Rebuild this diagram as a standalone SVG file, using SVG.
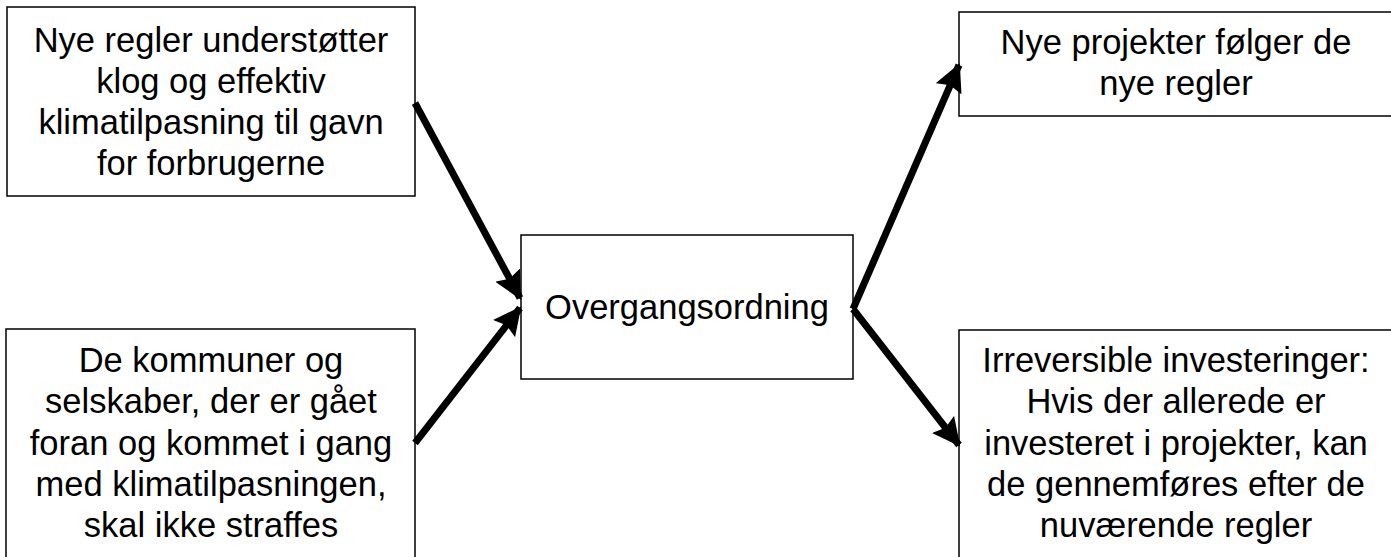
<svg xmlns="http://www.w3.org/2000/svg" width="1391" height="557" viewBox="0 0 1391 557">
<style>
.box{fill:#fff;stroke:#000;stroke-width:1.5}
.t{font-family:"Liberation Sans",Arial,sans-serif;font-size:34.5px;fill:#000;text-anchor:middle}
.c{stroke:#000;stroke-width:7;fill:none}
</style>
<defs>
<marker id="ah" markerUnits="userSpaceOnUse" markerWidth="30" markerHeight="28" refX="26" refY="14" orient="auto">
<path d="M0,0 L28,14 L0,28 L4,14 Z" fill="#000"/>
</marker>
</defs>
<rect width="1391" height="557" fill="#fff"/>
<g id="n1">
<rect class="box" x="7" y="7" width="408" height="189"/>
<text class="t"><tspan x="211" y="52">Nye regler understøtter</tspan><tspan x="211" y="93">klog og effektiv</tspan><tspan x="211" y="134">klimatilpasning til gavn</tspan><tspan x="211" y="175">for forbrugerne</tspan></text>
</g>
<g id="n2">
<rect class="box" x="6" y="329" width="409" height="240"/>
<text class="t"><tspan x="211" y="372">De kommuner og</tspan><tspan x="211" y="413">selskaber, der er gået</tspan><tspan x="211" y="455">foran og kommet i gang</tspan><tspan x="211" y="496">med klimatilpasningen,</tspan><tspan x="211" y="537">skal ikke straffes</tspan></text>
</g>
<g id="n3">
<rect class="box" x="521" y="235" width="332" height="144"/>
<text class="t" x="687" y="319">Overgangsordning</text>
</g>
<g id="n4">
<rect class="box" x="959" y="12" width="440" height="104"/>
<text class="t"><tspan x="1176" y="54">Nye projekter følger de</tspan><tspan x="1176" y="95">nye regler</tspan></text>
</g>
<g id="n5">
<rect class="box" x="959" y="330" width="440" height="240"/>
<text class="t"><tspan x="1176" y="372">Irreversible investeringer:</tspan><tspan x="1176" y="413">Hvis der allerede er</tspan><tspan x="1176" y="455">investeret i projekter, kan</tspan><tspan x="1176" y="496">de gennemføres efter de</tspan><tspan x="1176" y="537">nuværende regler</tspan></text>
</g>
<g id="connectors">
<line class="c" x1="415" y1="103" x2="520" y2="298" marker-end="url(#ah)"/>
<line class="c" x1="415" y1="443" x2="520" y2="308" marker-end="url(#ah)"/>
<line class="c" x1="853" y1="309" x2="959" y2="65" marker-end="url(#ah)"/>
<line class="c" x1="853" y1="309" x2="959" y2="445" marker-end="url(#ah)"/>
</g>
</svg>
